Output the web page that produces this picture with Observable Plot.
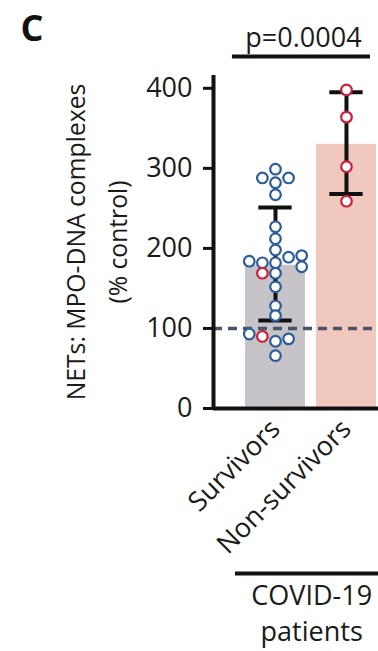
<!DOCTYPE html>
<html><head><meta charset="utf-8">
<script src="https://cdn.jsdelivr.net/npm/d3@7"></script>
<script src="https://cdn.jsdelivr.net/npm/@observablehq/plot@0.6"></script>
<style>body{margin:0;background:#fff}svg{display:block}</style>
</head><body><div id="chart"></div>
<script>
// ---- data ----
const categories = ["Survivors", "Non-survivors"];
const survivorValues = [299, 288, 288, 282, 267, 227, 212, 198, 189, 191, 184, 182, 182, 177, 169, 169, 152, 128, 116, 93, 90, 84, 87, 66];
const survivorSlots  = [0, -1, 1, 0, 0, 0, 0, 0, 1, 2, -2, -1, 0, 2, -1, 0, 0, 0, 0, -2, -1, 0, 1, 0];
const survivorDied   = [0, 0, 0, 0, 0, 0, 0, 0, 0, 0, 0, 0, 0, 0, 1, 0, 0, 0, 0, 0, 1, 0, 0, 0];
const nonSurvivorValues = [398, 364, 302, 259];
const nonSurvivorSlots  = [0, 0, 0, 0];
const nonSurvivorDied   = [1, 1, 1, 1];
const means = [179, 330];
const lowerSD = [110, 268];
const upperSD = [251, 395];
const yTicks = [0, 100, 200, 300, 400];
const controlLevel = 100;
const pLabel = "p=0.0004";
const yLabel = "NETs: MPO-DNA complexes\n(% control)";
const groupLabel = "COVID-19\npatients";
const panelLabel = "C";

// ---- styles ----
const barColors = ["#c6c4c9", "#f1c8bd"];
const blue = "#2c5c9c", red = "#cc1f3c";
const font = "Open Sans";
const slotStep = 0.1845, barHalf = 0.4225, capHalf = 0.235;

const bars = categories.map((c, i) => ({group: c, i, mean: means[i], lo: lowerSD[i], hi: upperSD[i]}));
const points = [
  ...survivorValues.map((v, k) => ({i: 0, value: v, slot: survivorSlots[k], died: survivorDied[k]})),
  ...nonSurvivorValues.map((v, k) => ({i: 1, value: v, slot: nonSurvivorSlots[k], died: nonSurvivorDied[k]}))
];
const xOf = d => d.i + d.slot * slotStep;
const xDomain = [-0.873, 1.451];
const yDomain = [0, 416];

const chart = Plot.plot({
  width: 378, height: 651,
  marginLeft: 213, marginRight: 0, marginTop: 75, marginBottom: 243,
  style: {fontFamily: font, color: "#1a1a1a", background: "white"},
  x: {domain: xDomain, axis: null},
  y: {domain: yDomain, axis: null},
  color: {domain: categories, range: barColors},
  marks: [
    Plot.rectY(bars, {x1: d => d.i - barHalf, x2: d => d.i + barHalf, y1: 0, y2: "mean", fill: "group"}),
    Plot.ruleY([controlLevel], {stroke: "#4a5468", strokeWidth: 3.5, strokeDasharray: "9,6"}),
    Plot.ruleX(bars, {x: "i", y1: "lo", y2: "hi", stroke: "#111", strokeWidth: 4}),
    Plot.ruleY(bars, {y: "lo", x1: d => d.i - capHalf, x2: d => d.i + capHalf, stroke: "#111", strokeWidth: 4}),
    Plot.ruleY(bars, {y: "hi", x1: d => d.i - capHalf, x2: d => d.i + capHalf, stroke: "#111", strokeWidth: 4}),
    Plot.dot(points.filter(d => !d.died), {x: xOf, y: "value", r: 5.3, fill: "white", stroke: blue, strokeWidth: 2.2}),
    Plot.dot(points.filter(d => d.died), {x: xOf, y: "value", r: 5.3, fill: "white", stroke: red, strokeWidth: 2.2}),
    Plot.ruleX([xDomain[0]], {stroke: "#111", strokeWidth: 4}),
    Plot.ruleY([0], {stroke: "#111", strokeWidth: 4}),
    Plot.axisY({ticks: yTicks, tickSize: 10, tickPadding: 11, fontSize: 27, strokeWidth: 3, stroke: "#111", label: null}),
    Plot.axisX([0, 1], {tickFormat: i => categories[i], tickRotate: -45, tickSize: 0, tickPadding: 16, fontSize: 27, label: null}),
    Plot.text([yLabel], {frameAnchor: "left", textAnchor: "middle", rotate: -90, dx: -121, fontSize: 24.7, lineHeight: 1.7, lineAnchor: "middle", fill: "#1a1a1a"}),
    Plot.text([panelLabel], {frameAnchor: "top-left", dx: -193, dy: -60, textAnchor: "start", fontSize: 36, fontWeight: "bold", fill: "#111"}),
    Plot.ruleY([yDomain[1]], {x1: -0.606, x2: 1.338, dy: -19, stroke: "#111", strokeWidth: 4}),
    Plot.text([pLabel], {x: 0.394, frameAnchor: "top", dy: -48, fontSize: 27, fill: "#1a1a1a"}),
    Plot.ruleY([0], {x1: -0.563, x2: xDomain[1], dy: 165, stroke: "#111", strokeWidth: 4}),
    Plot.text([groupLabel], {x: 0.51, frameAnchor: "bottom", dy: 172, fontSize: 27, lineHeight: 1.3, lineAnchor: "top", fill: "#1a1a1a"})
  ]
});
document.getElementById("chart").append(chart);
</script></body></html>
